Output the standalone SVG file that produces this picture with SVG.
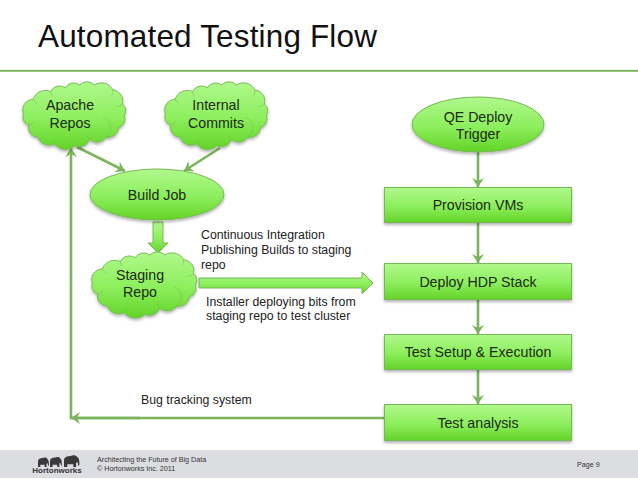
<svg xmlns="http://www.w3.org/2000/svg" width="638" height="479" viewBox="0 0 638 479">
<style>
text{font-family:"Liberation Sans",Arial,sans-serif;fill:#1c2a14;font-size:14.2px;text-anchor:middle}
.lbl{font-size:12.3px;text-anchor:start;fill:#222}
.ft{font-size:7.15px;text-anchor:start;fill:#333}
.shape{fill:url(#g);stroke:#76b852;stroke-width:1}
.curl{fill:none;stroke:#76b852;stroke-width:1;stroke-opacity:.55}
.conn{fill:none;stroke:#7ab55c;stroke-width:2.6}
.block{fill:url(#g);stroke:#7ab55c;stroke-width:1}
.ele{fill:#3a3a3a}
</style>
<defs>
<linearGradient id="g" x1="0" y1="0" x2="0" y2="1"><stop offset="0" stop-color="#b0f98c"/><stop offset="0.55" stop-color="#8cee5c"/><stop offset="1" stop-color="#63d327"/></linearGradient>
<filter id="s" x="-10%" y="-15%" width="120%" height="135%"><feDropShadow dx="0" dy="2" stdDeviation="1.5" flood-color="#000" flood-opacity="0.3"/></filter>
<marker id="a" markerUnits="userSpaceOnUse" markerWidth="14" markerHeight="14" refX="9" refY="6" orient="auto"><path d="M0 0L9 6L0 12L3 6Z" fill="#7ab55c"/></marker>
<g id="cloud">
<path class="shape" d="M0 30A11 11 0 0 1 10 15A13 13 0 0 1 28 7A10 10 0 0 1 43 3A10 10 0 0 1 58 0A10 10 0 0 1 73 0A13 13 0 0 1 92 5A12 12 0 0 1 102 20A9 9 0 0 1 104 32A10 10 0 0 1 98 45A11 11 0 0 1 85 55A11 11 0 0 1 68 57A11 11 0 0 1 53 64A14 14 0 0 1 32 62A12 12 0 0 1 15 55A11 11 0 0 1 5 42A9 9 0 0 1 0 30Z"/>
<path class="curl" d="M10 15q1 3 4 5M28 7q0 3 2 5M92 5q1 3-1 6M102 20q-3 3-6 3M82 34q8 3 8 12q0 5-5 9M68 57q-2-2-3-5M32 62q2-3 2-6M5 42q3-1 6-3"/>
</g>
<g id="ele"><path class="ele" d="M0 10V4C0 1 3 0 6 0C8-1 11-1 12 1C14 2 14 5 14 8L13 9L12.500 6L11 6V10H8.500V7.500H3V10Z"/></g>
</defs>
<rect width="638" height="479" fill="#fff"/>
<rect x="0" y="69.800" width="638" height="2" fill="#7fb55d"/>
<text x="38" y="47" style="font-size:31.500px;text-anchor:start;fill:#111;letter-spacing:.16px">Automated Testing Flow</text>
<g id="connectors">
<path class="conn" d="M77 147L125 171" marker-end="url(#a)"/>
<path class="conn" d="M220 148L184 171" marker-end="url(#a)"/>
<path class="block" d="M153 222h10v21h5l-10 10l-10-10h5z"/>
<path class="block" d="M199 278h163v-6l11 11l-11 11v-6H199z"/>
<path class="conn" d="M478 152V187" marker-end="url(#a)"/>
<path class="conn" d="M478 223V263" marker-end="url(#a)"/>
<path class="conn" d="M478 300V334" marker-end="url(#a)"/>
<path class="conn" d="M478 370V404" marker-end="url(#a)"/>
<path class="conn" d="M384 418H71V148" marker-end="url(#a)"/>
<path class="conn" d="M140 418H71" marker-end="url(#a)"/>
</g>
<g id="apache-repos"><use href="#cloud" filter="url(#s)" transform="translate(23.500,85) scale(.97,.95)"/><text x="70" y="110">Apache</text><text x="70" y="128">Repos</text></g>
<g id="internal-commits"><use href="#cloud" filter="url(#s)" transform="translate(165.500,85) scale(.97,.95)"/><text x="216" y="110">Internal</text><text x="216" y="128">Commits</text></g>
<g id="build-job"><ellipse class="shape" filter="url(#s)" cx="157" cy="194.500" rx="67" ry="25.500"/><text x="157" y="200">Build Job</text></g>
<g id="staging-repo"><use href="#cloud" filter="url(#s)" transform="translate(92.500,255) scale(.99,.93)"/><text x="140" y="280">Staging</text><text x="140" y="297">Repo</text></g>
<g id="qe-deploy"><ellipse class="shape" filter="url(#s)" cx="478" cy="124.500" rx="66" ry="27.500"/><text x="478" y="122">QE Deploy</text><text x="478" y="139">Trigger</text></g>
<g id="provision"><rect class="shape" filter="url(#s)" x="384.500" y="187.500" width="187" height="35"/><text x="478" y="210">Provision VMs</text></g>
<g id="deploy"><rect class="shape" filter="url(#s)" x="384.500" y="263.500" width="187" height="36"/><text x="478" y="287">Deploy HDP Stack</text></g>
<g id="test-setup"><rect class="shape" filter="url(#s)" x="384.500" y="334.500" width="187" height="35"/><text x="478" y="357">Test Setup &amp; Execution</text></g>
<g id="test-analysis"><rect class="shape" filter="url(#s)" x="384.500" y="404.500" width="187" height="36"/><text x="478" y="428">Test analysis</text></g>
<g id="labels">
<text class="lbl" x="201" y="239">Continuous Integration</text>
<text class="lbl" x="201" y="254">Publishing Builds to staging</text>
<text class="lbl" x="201" y="269">repo</text>
<text class="lbl" x="206" y="306">Installer deploying bits from</text>
<text class="lbl" x="206" y="320">staging repo to test cluster</text>
<text class="lbl" x="141" y="404">Bug tracking system</text>
</g>
<g id="footer">
<rect x="0" y="450" width="638" height="28" fill="#dcdde0"/>
<text class="ft" x="97" y="462">Architecting the Future of Big Data</text>
<text class="ft" x="97" y="471">© Hortonworks Inc. 2011</text>
<text class="ft" x="577" y="467">Page 9</text>
<use href="#ele" transform="translate(38,458) scale(.78,.9)"/>
<use href="#ele" transform="translate(50,457.500) scale(.85,.95)"/>
<use href="#ele" transform="translate(64,456) scale(1.1,1.1)"/>
<text x="57" y="473" style="font-size:8px;font-weight:bold;fill:#333">Hortonworks</text>
</g>
</svg>
